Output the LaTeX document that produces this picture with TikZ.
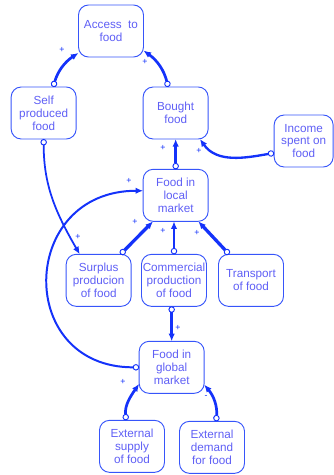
\documentclass[tikz,border=0pt]{standalone}
\usepackage{fontspec}
\setmainfont{Liberation Sans}
\usepackage{tikz}
\usetikzlibrary{arrows.meta}
\definecolor{linkblue}{RGB}{20,50,250}
\definecolor{boxblue}{RGB}{55,85,250}
\definecolor{textblue}{RGB}{95,95,245}

\begin{document}
\begin{tikzpicture}[scale=1.0,
  box/.style={draw=boxblue,line width=0.8pt,rounded corners=0.3cm,
    minimum width=1.95cm,minimum height=1.56cm,outer sep=0pt,inner sep=1pt,
    align=center,text=textblue,font=\fontsize{10}{11}\selectfont},
  link/.style={draw=linkblue,line width=2pt,
    {Circle[open,length=5.5pt,width=5.5pt,line width=0.8pt]}-{Latex[length=6.5pt,width=5.5pt]}},
  sign/.style={text=linkblue,inner sep=0pt,font=\fontsize{7.5}{7.5}\selectfont}]
\useasboundingbox (0,0) rectangle (10.02,14.25);
% variables
\node[box] (access) at (3.33,13.32) {Access~ to\\food};
\node[box] (self) at (1.31,10.86) {Self\\produced\\food};
\node[box] (bought) at (5.27,10.86) {Bought\\food};
\node[box,minimum width=1.77cm] (income) at (9.11,10.02) {Income\\spent on\\food};
\node[box] (local) at (5.27,8.39) {Food in\\local\\market};
\node[box] (surplus) at (2.96,5.84) {Surplus\\producion\\of food};
\node[box] (comm) at (5.22,5.84) {Commercial\\production\\of food};
\node[box] (transport) at (7.53,5.84) {Transport\\of food};
\node[box] (global) at (5.15,3.23) {Food in\\global\\market};
\node[box] (supply) at (3.96,0.86) {External\\supply\\of food};
\node[box] (demand) at (6.36,0.83) {External\\demand\\for food};
% links
\draw[link,line width=2.3pt] (self.70) to[bend left=20] (access.214);
\draw[link,line width=2.3pt] (bought.106) to[bend right=20] (access.329);
\draw[link] (income.202) to[out=190,in=-55] (bought.313);
\draw[link] (local.north) -- (bought.south);
\draw[link,line width=1.5pt] (self.south) to[out=-90,in=120] (surplus.126);
\draw[link,line width=2.8pt] (surplus.50) -- (local.229);
\draw[link] (comm.north) -- (comm.north |- local.south);
\draw[link,line width=2.8pt] (transport.130) -- (local.311);
\draw[link] (global.north |- comm.south) -- (global.north);
\draw[link,line width=1.7pt] (global.west) to[out=180,in=180,looseness=1.8] (local.172);
\draw[link,line width=2.3pt] (supply.103) to[out=95,in=235] (global.207);
\draw[link,line width=2.3pt] (demand.81) to[out=85,in=-50] (global.332);
% polarities
\node[sign] (s1) at (1.86,12.75) {+};
\node[sign] (s2) at (4.35,12.39) {+};
\node[sign] (s3) at (5.97,9.72) {+};
\node[sign] (s4) at (4.89,9.81) {+};
\node[sign] (s5) at (2.34,7.14) {+};
\node[sign] (s6) at (4.05,7.59) {+};
\node[sign] (s7) at (4.89,7.32) {+};
\node[sign] (s8) at (5.91,7.26) {+};
\node[sign] (s9) at (5.34,4.41) {+};
\node[sign] (s10) at (3.87,8.82) {+};
\node[sign] (s11) at (3.69,2.79) {+};
\node[sign] (s12) at (6.18,2.34) {-};
\end{tikzpicture}
\end{document}
